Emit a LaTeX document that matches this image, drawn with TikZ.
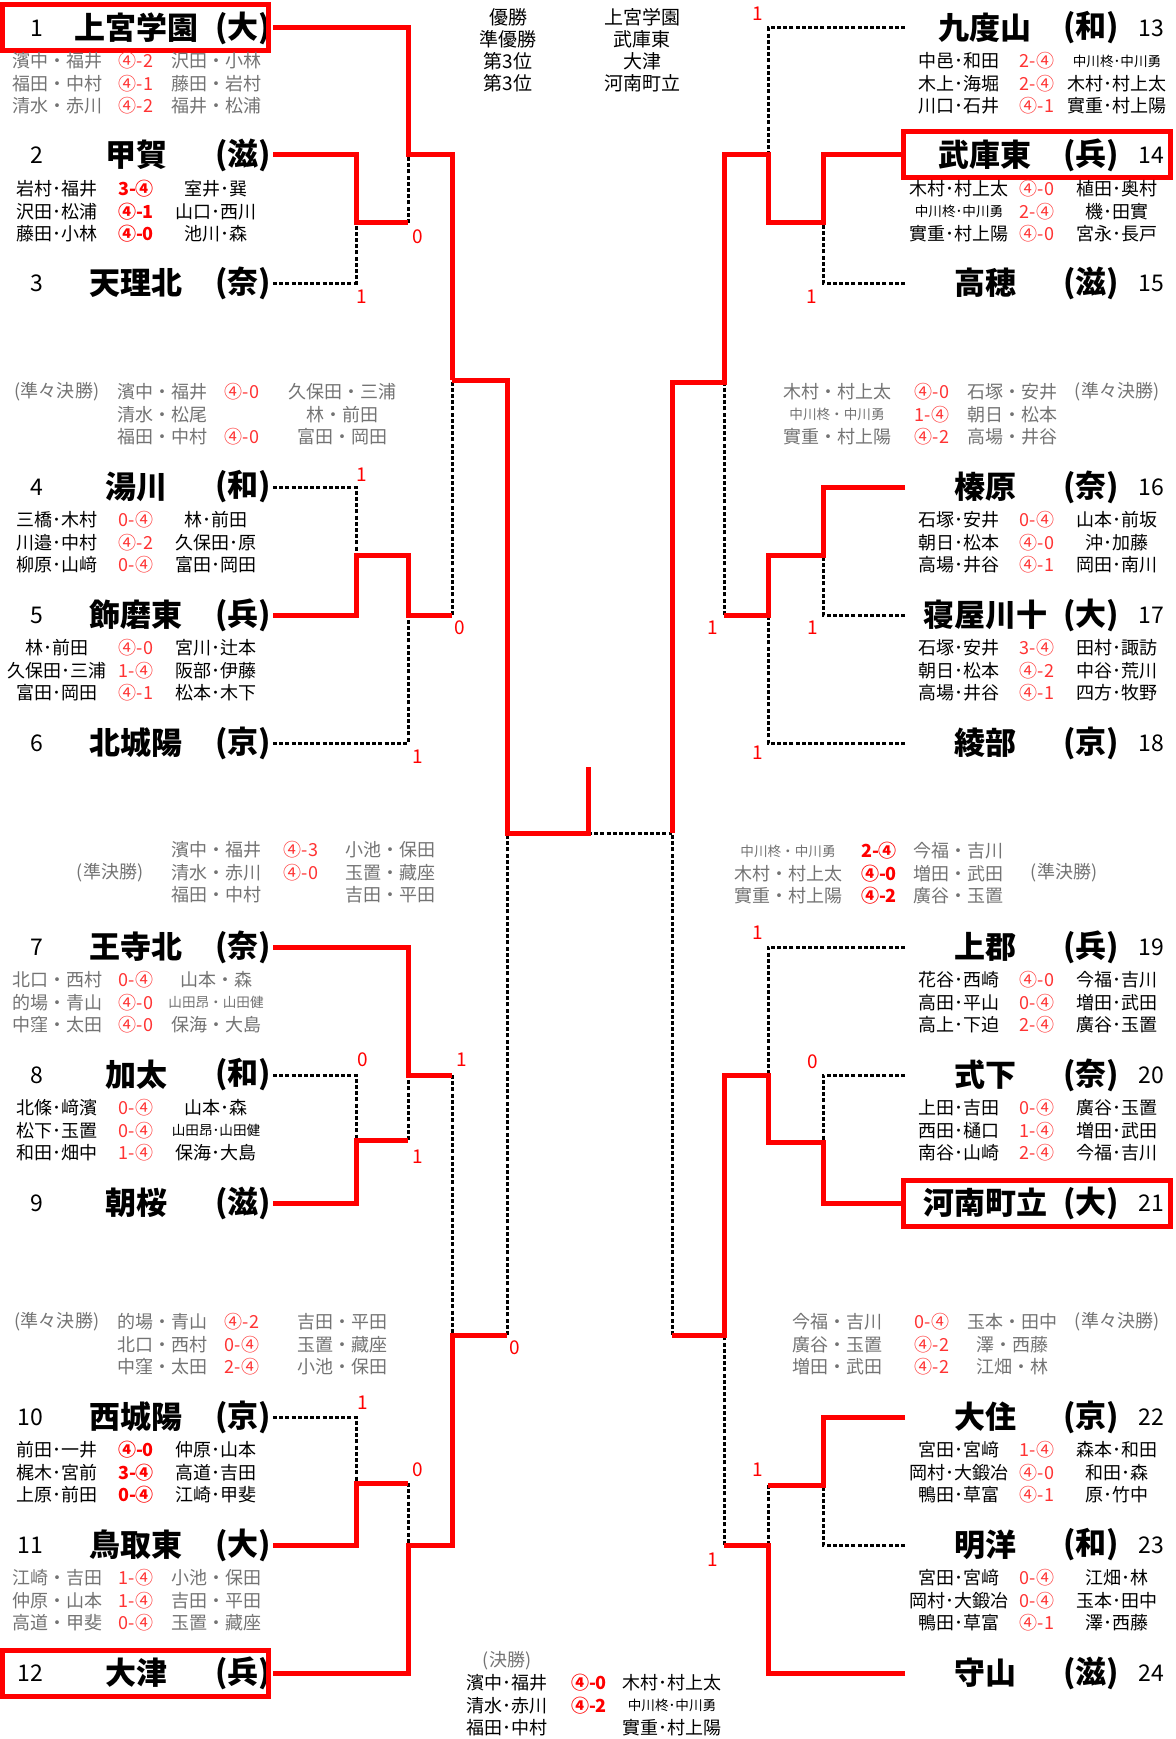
\documentclass[tikz,border=0pt]{standalone}
\usepackage{fontspec}
\setmainfont{Noto Sans CJK JP}
\newcommand\sml{\fontsize{6.8}{7}\selectfont}
\begin{document}
\begin{tikzpicture}[x=0.5pt,y=-0.5pt,
  win/.style={red,line width=2.5pt},
  lose/.style={line width=1.5pt,dash pattern=on 2pt off 1.1pt},
  hl/.style={draw=red,line width=2.5pt},
  nm/.style={font=\fontsize{15.5}{16}\selectfont\bfseries},
  num/.style={font=\fontsize{11.5}{12}\selectfont},
  rw/.style={font=\fontsize{9}{10}\selectfont,inner sep=0pt},
  gr/.style={rw,text=black!55},
  sc/.style={rw,text=red!80},
  scb/.style={rw,text=red,font=\fontsize{9}{10}\selectfont\bfseries},
  cnt/.style={red,font=\fontsize{9.5}{10}\selectfont,inner sep=0pt}]
\useasboundingbox (0,0) rectangle (1175,1739);

% teams
\foreach \n/\y/\tm/\pf in {1/28/上宮学園/大, 2/155/甲賀/滋, 3/283/天理北/奈, 4/487/湯川/和, 5/615/飾磨東/兵, 6/743/北城陽/京, 7/947/王寺北/奈, 8/1075/加太/和, 9/1203/朝桜/滋, 10/1417/西城陽/京, 11/1545/鳥取東/大, 12/1673/大津/兵}{
  \node[num,anchor=east] (n\n) at (50,\y) {\n};
  \node[nm] (t\n) at (136,\y) {\tm};
  \node[nm] (p\n) at (243,\y) {(\pf)};
  \coordinate (L\n) at (273,\y);
}
\foreach \n/\y/\tm/\pf in {13/28/九度山/和, 14/155/武庫東/兵, 15/283/高穂/滋, 16/487/榛原/奈, 17/615/寝屋川十/大, 18/743/綾部/京, 19/947/上郡/兵, 20/1075/式下/奈, 21/1203/河南町立/大, 22/1417/大住/京, 23/1545/明洋/和, 24/1673/守山/滋}{
  \coordinate (R\n) at (905,\y);
  \node[nm] (t\n) at (985,\y) {\tm};
  \node[nm] (p\n) at (1091,\y) {(\pf)};
  \node[num] (n\n) at (1151,\y) {\n};
}
\draw[hl] (2,5) rectangle (268,51);
\draw[hl] (2,1650) rectangle (268,1696);
\draw[hl] (903,132) rectangle (1170,178);
\draw[hl] (903,1180) rectangle (1170,1226);

% results under the teams
\foreach \pa/\ps/\pb [count=\i from 0] in {濱中・福井/④-2/沢田・小林, 福田・中村/④-1/藤田・岩村, 清水・赤川/④-2/福井・松浦}{
  \node[gr] (b1a\i) at (57,61+22.5*\i) {\pa}; \node[sc] (b1s\i) at (136,61+22.5*\i) {\ps}; \node[gr] (b1b\i) at (216,61+22.5*\i) {\pb};}
\foreach \pa/\ps/\pb [count=\i from 0] in {岩村･福井/3-④/室井･巽, 沢田･松浦/④-1/山口･西川, 藤田･小林/④-0/池川･森}{
  \node[rw] (b2a\i) at (57,189+22.5*\i) {\pa}; \node[scb] (b2s\i) at (136,189+22.5*\i) {\ps}; \node[rw] (b2b\i) at (216,189+22.5*\i) {\pb};}
\foreach \pa/\ps/\pb [count=\i from 0] in {三橋･木村/0-④/林･前田, 川邉･中村/④-2/久保田･原, 柳原･山﨑/0-④/富田･岡田}{
  \node[rw] (b4a\i) at (57,520+22.5*\i) {\pa}; \node[sc] (b4s\i) at (136,520+22.5*\i) {\ps}; \node[rw] (b4b\i) at (216,520+22.5*\i) {\pb};}
\foreach \pa/\ps/\pb [count=\i from 0] in {林･前田/④-0/宮川･辻本, 久保田･三浦/1-④/阪部･伊藤, 富田･岡田/④-1/松本･木下}{
  \node[rw] (b5a\i) at (57,648+22.5*\i) {\pa}; \node[sc] (b5s\i) at (136,648+22.5*\i) {\ps}; \node[rw] (b5b\i) at (216,648+22.5*\i) {\pb};}
\foreach \pa/\ps/\pb [count=\i from 0] in {北口・西村/0-④/山本・森, 的場・青山/④-0/\sml 山田昂・山田健, 中窪・太田/④-0/保海・大島}{
  \node[gr] (b7a\i) at (57,980+22.5*\i) {\pa}; \node[sc] (b7s\i) at (136,980+22.5*\i) {\ps}; \node[gr] (b7b\i) at (216,980+22.5*\i) {\pb};}
\foreach \pa/\ps/\pb [count=\i from 0] in {北條･﨑濱/0-④/山本･森, 松下･玉置/0-④/\sml 山田昂･山田健, 和田･畑中/1-④/保海･大島}{
  \node[rw] (b8a\i) at (57,1108+22.5*\i) {\pa}; \node[sc] (b8s\i) at (136,1108+22.5*\i) {\ps}; \node[rw] (b8b\i) at (216,1108+22.5*\i) {\pb};}
\foreach \pa/\ps/\pb [count=\i from 0] in {前田･一井/④-0/仲原･山本, 梶木･宮前/3-④/高道･吉田, 上原･前田/0-④/江崎･甲斐}{
  \node[rw] (b10a\i) at (57,1450+22.5*\i) {\pa}; \node[scb] (b10s\i) at (136,1450+22.5*\i) {\ps}; \node[rw] (b10b\i) at (216,1450+22.5*\i) {\pb};}
\foreach \pa/\ps/\pb [count=\i from 0] in {江崎・吉田/1-④/小池・保田, 仲原・山本/1-④/吉田・平田, 高道・甲斐/0-④/玉置・藏座}{
  \node[gr] (b11a\i) at (57,1578+22.5*\i) {\pa}; \node[sc] (b11s\i) at (136,1578+22.5*\i) {\ps}; \node[gr] (b11b\i) at (216,1578+22.5*\i) {\pb};}

\foreach \pa/\ps/\pb [count=\i from 0] in {中邑･和田/2-④/\sml 中川柊･中川勇, 木上･海堀/2-④/木村･村上太, 川口･石井/④-1/實重･村上陽}{
  \node[rw] (b13a\i) at (959,61+22.5*\i) {\pa}; \node[sc] (b13s\i) at (1037,61+22.5*\i) {\ps}; \node[rw] (b13b\i) at (1117,61+22.5*\i) {\pb};}
\foreach \pa/\ps/\pb [count=\i from 0] in {木村･村上太/④-0/植田･奥村, \sml 中川柊･中川勇/2-④/機･田實, 實重･村上陽/④-0/宮永･長戸}{
  \node[rw] (b14a\i) at (959,189+22.5*\i) {\pa}; \node[sc] (b14s\i) at (1037,189+22.5*\i) {\ps}; \node[rw] (b14b\i) at (1117,189+22.5*\i) {\pb};}
\foreach \pa/\ps/\pb [count=\i from 0] in {石塚･安井/0-④/山本･前坂, 朝日･松本/④-0/沖･加藤, 高場･井谷/④-1/岡田･南川}{
  \node[rw] (b16a\i) at (959,520+22.5*\i) {\pa}; \node[sc] (b16s\i) at (1037,520+22.5*\i) {\ps}; \node[rw] (b16b\i) at (1117,520+22.5*\i) {\pb};}
\foreach \pa/\ps/\pb [count=\i from 0] in {石塚･安井/3-④/田村･諏訪, 朝日･松本/④-2/中谷･荒川, 高場･井谷/④-1/四方･牧野}{
  \node[rw] (b17a\i) at (959,648+22.5*\i) {\pa}; \node[sc] (b17s\i) at (1037,648+22.5*\i) {\ps}; \node[rw] (b17b\i) at (1117,648+22.5*\i) {\pb};}
\foreach \pa/\ps/\pb [count=\i from 0] in {花谷･西崎/④-0/今福･吉川, 高田･平山/0-④/増田･武田, 高上･下迫/2-④/廣谷･玉置}{
  \node[rw] (b19a\i) at (959,980+22.5*\i) {\pa}; \node[sc] (b19s\i) at (1037,980+22.5*\i) {\ps}; \node[rw] (b19b\i) at (1117,980+22.5*\i) {\pb};}
\foreach \pa/\ps/\pb [count=\i from 0] in {上田･吉田/0-④/廣谷･玉置, 西田･樋口/1-④/増田･武田, 南谷･山崎/2-④/今福･吉川}{
  \node[rw] (b20a\i) at (959,1108+22.5*\i) {\pa}; \node[sc] (b20s\i) at (1037,1108+22.5*\i) {\ps}; \node[rw] (b20b\i) at (1117,1108+22.5*\i) {\pb};}
\foreach \pa/\ps/\pb [count=\i from 0] in {宮田･宮﨑/1-④/森本･和田, 岡村･大鍛冶/④-0/和田･森, 鴨田･草富/④-1/原･竹中}{
  \node[rw] (b22a\i) at (959,1450+22.5*\i) {\pa}; \node[sc] (b22s\i) at (1037,1450+22.5*\i) {\ps}; \node[rw] (b22b\i) at (1117,1450+22.5*\i) {\pb};}
\foreach \pa/\ps/\pb [count=\i from 0] in {宮田･宮﨑/0-④/江畑･林, 岡村･大鍛冶/0-④/玉本･田中, 鴨田･草富/④-1/澤･西藤}{
  \node[rw] (b23a\i) at (959,1578+22.5*\i) {\pa}; \node[sc] (b23s\i) at (1037,1578+22.5*\i) {\ps}; \node[rw] (b23b\i) at (1117,1578+22.5*\i) {\pb};}

% later rounds
\node[gr] (qf1) at (57,392) {(準々決勝)};
\foreach \pa/\ps/\pb [count=\i from 0] in {濱中・福井/④-0/久保田・三浦, 清水・松尾//林・前田, 福田・中村/④-0/富田・岡田}{
  \node[gr] (q1a\i) at (162,392+22.5*\i) {\pa}; \node[sc] (q1s\i) at (242,392+22.5*\i) {\ps}; \node[gr] (q1b\i) at (342,392+22.5*\i) {\pb};}
\node[gr] (sf1) at (110,873) {(準決勝)};
\foreach \pa/\ps/\pb [count=\i from 0] in {濱中・福井/④-3/小池・保田, 清水・赤川/④-0/玉置・藏座, 福田・中村//吉田・平田}{
  \node[gr] (s1a\i) at (216,850+22.5*\i) {\pa}; \node[sc] (s1s\i) at (301,850+22.5*\i) {\ps}; \node[gr] (s1b\i) at (390,850+22.5*\i) {\pb};}
\node[gr] (qf2) at (57,1322) {(準々決勝)};
\foreach \pa/\ps/\pb [count=\i from 0] in {的場・青山/④-2/吉田・平田, 北口・西村/0-④/玉置・藏座, 中窪・太田/2-④/小池・保田}{
  \node[gr] (q2a\i) at (162,1322+22.5*\i) {\pa}; \node[sc] (q2s\i) at (242,1322+22.5*\i) {\ps}; \node[gr] (q2b\i) at (342,1322+22.5*\i) {\pb};}
\node[gr] (qf3) at (1117,392) {(準々決勝)};
\foreach \pa/\ps/\pb [count=\i from 0] in {木村・村上太/④-0/石塚・安井, \sml 中川柊・中川勇/1-④/朝日・松本, 實重・村上陽/④-2/高場・井谷}{
  \node[gr] (q3a\i) at (837,392+22.5*\i) {\pa}; \node[sc] (q3s\i) at (932,392+22.5*\i) {\ps}; \node[gr] (q3b\i) at (1012,392+22.5*\i) {\pb};}
\node[gr] (sf2) at (1064,873) {(準決勝)};
\foreach \pa/\ps/\pb [count=\i from 0] in {\sml 中川柊・中川勇/2-④/今福・吉川, 木村・村上太/④-0/増田・武田, 實重・村上陽/④-2/廣谷・玉置}{
  \node[gr] (s2a\i) at (788,851+22.5*\i) {\pa}; \node[scb] (s2s\i) at (879,851+22.5*\i) {\ps}; \node[gr] (s2b\i) at (958,851+22.5*\i) {\pb};}
\node[gr] (qf4) at (1117,1322) {(準々決勝)};
\foreach \pa/\ps/\pb [count=\i from 0] in {今福・吉川/0-④/玉本・田中, 廣谷・玉置/④-2/澤・西藤, 増田・武田/④-2/江畑・林}{
  \node[gr] (q4a\i) at (837,1322+22.5*\i) {\pa}; \node[sc] (q4s\i) at (932,1322+22.5*\i) {\ps}; \node[gr] (q4b\i) at (1012,1322+22.5*\i) {\pb};}
\node[gr] (fin) at (507,1661) {(決勝)};
\foreach \pa/\ps/\pb [count=\i from 0] in {濱中･福井/④-0/木村･村上太, 清水･赤川/④-2/\sml 中川柊･中川勇, 福田･中村//實重･村上陽}{
  \node[rw] (fa\i) at (507,1683+22.5*\i) {\pa}; \node[scb] (fs\i) at (589,1683+22.5*\i) {\ps}; \node[rw] (fb\i) at (672,1683+22.5*\i) {\pb};}

% final standings
\foreach \pa/\pb [count=\i from 0] in {優勝/上宮学園, 準優勝/武庫東, 第3位/大津, 第3位/河南町立}{
  \node[rw,font=\fontsize{9.5}{10}\selectfont] (rk\i) at (508,17+22*\i) {\pa};
  \node[rw,font=\fontsize{9.5}{10}\selectfont] (wn\i) at (642,17+22*\i) {\pb};}

% bracket
\coordinate (j1) at (408,155);   \coordinate (j23) at (356,223);
\coordinate (j45) at (356,555);  \coordinate (j6) at (408,615);
\coordinate (j7) at (408,1075);  \coordinate (j89) at (356,1140);
\coordinate (j1011) at (356,1483); \coordinate (j12) at (408,1545);
\coordinate (q1) at (452,380);   \coordinate (q2) at (452,1335);
\coordinate (s1) at (507,833);   \coordinate (s2) at (672,833);
\coordinate (f) at (588,833);    \coordinate (champ) at (588,767);
\coordinate (q3) at (724,382);   \coordinate (q4) at (724,1335);
\coordinate (j13) at (768,155);  \coordinate (j1415) at (823,223);
\coordinate (j1617) at (823,555); \coordinate (j18) at (768,615);
\coordinate (j19) at (768,1075); \coordinate (j2021) at (823,1142);
\coordinate (j2223) at (823,1485); \coordinate (j24) at (768,1545);

\draw[lose] (L3) -| (j23);
\draw[lose] (j23 -| j1) -- (j1);
\draw[lose] (L4) -| (j45);
\draw[lose] (L6) -| (j6);
\draw[lose] (j6 -| q1) -- (q1);
\draw[lose] (L8) -| (j89);
\draw[lose] (j89 -| j7) -- (j7);
\draw[lose] (j7 -| q2) -- (q2);
\draw[lose] (L10) -| (j1011);
\draw[lose] (j1011 -| j12) -- (j12);
\draw[lose] (q2 -| s1) -- (s1);
\draw[lose] (f) -- (s2);
\draw[lose] (R13) -| (j13);
\draw[lose] (R15) -| (j1415);
\draw[lose] (R17) -| (j1617);
\draw[lose] (R18) -| (j18);
\draw[lose] (j18 -| q3) -- (q3);
\draw[lose] (R19) -| (j19);
\draw[lose] (R20) -| (j2021);
\draw[lose] (R23) -| (j2223);
\draw[lose] (j2223 -| j24) -- (j24);
\draw[lose] (j24 -| q4) -- (q4);
\draw[lose] (q4 -| s2) -- (s2);

\draw[win] (L1) -| (j1) -| (q1);
\draw[win] (L2) -| (j23) -- (j23 -| j1);
\draw[win] (L5) -| (j45) -| (j6) -- (j6 -| q1);
\draw[win] (q1) -| (s1) -- (f) -- (champ);
\draw[win] (L7) -| (j7) -- (j7 -| q2);
\draw[win] (L9) -| (j89) -- (j89 -| j7);
\draw[win] (L11) -| (j1011) -- (j1011 -| j12);
\draw[win] (L12) -| (j12) -| (q2) -- (q2 -| s1);
\draw[win] (R14) -| (j1415) -- (j1415 -| j13) -- (j13) -| (q3) -| (s2);
\draw[win] (R16) -| (j1617) -| (j18) -- (j18 -| q3);
\draw[win] (R21) -| (j2021) -| (j19) -| (q4) -- (q4 -| s2);
\draw[win] (R22) -| (j2223) -- (j2223 -| j24);
\draw[win] (R24) -| (j24) -- (j24 -| q4);

% games won by the loser
\foreach \x/\y/\v [count=\i] in {418/237/0, 362/297/1, 362/475/1, 418/757/1, 460/628/0, 363/1060/0, 418/1157/1, 462/1060/1, 363/1403/1, 418/1470/0, 515/1348/0, 758/14/1, 812/297/1, 713/628/1, 813/628/1, 758/753/1, 758/933/1, 813/1062/0, 758/1470/1, 713/1560/1}
  \node[cnt] (c\i) at (\x,\y) {\v};
\end{tikzpicture}
\end{document}
